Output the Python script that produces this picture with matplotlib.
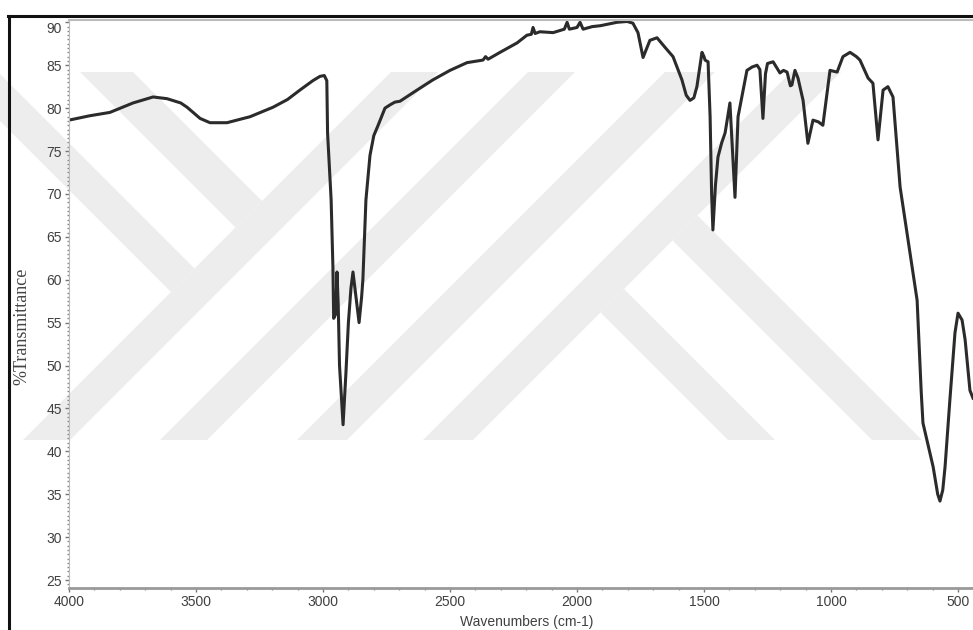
import matplotlib
matplotlib.use("Agg")
import matplotlib.pyplot as plt
from matplotlib.patches import Polygon
from matplotlib.lines import Line2D
from matplotlib.ticker import MultipleLocator

# spectrum (cm-1, %T)
wavenumber = [4000, 3920, 3839, 3748, 3669, 3614, 3560, 3535, 3484, 3445, 3378, 3287,
              3197, 3140, 3091, 3040, 3012, 2995, 2985, 2982, 2968, 2961, 2958, 2950,
              2945, 2940, 2935, 2921, 2910, 2900, 2890, 2882, 2870, 2858, 2848, 2843,
              2831, 2815, 2800, 2783, 2756, 2735, 2717, 2697, 2630, 2567, 2500, 2433,
              2370, 2360, 2350, 2303, 2236, 2197, 2180, 2173, 2165, 2146, 2094, 2050,
              2039, 2030, 2000, 1988, 1976, 1940, 1909, 1843, 1803, 1780, 1760, 1740,
              1713, 1685, 1654, 1622, 1587, 1570, 1555, 1540, 1528, 1508, 1500, 1496,
              1484, 1476, 1470, 1465, 1455, 1445, 1430, 1417, 1398, 1388, 1378, 1366,
              1331, 1310, 1291, 1280, 1268, 1258, 1250, 1228, 1201, 1187, 1173, 1160,
              1154, 1142, 1130, 1110, 1091, 1071, 1050, 1032, 1004, 976, 953, 925,
              900, 886, 854, 835, 815, 795, 776, 756, 728, 689, 661, 645,
              638, 620, 598, 580, 571, 560, 551, 532, 512, 500, 484, 472,
              453, 441]
transmittance = [78.6, 79.1, 79.5, 80.6, 81.3, 81.1, 80.6, 80.1, 78.8, 78.3, 78.3, 79.0,
                 80.1, 81.0, 82.1, 83.2, 83.7, 83.8, 83.2, 77.1, 69.3, 61.5, 55.5, 56.0,
                 60.9, 57.0, 50.0, 43.1, 49.0, 55.0, 59.0, 60.9, 58.0, 55.0, 58.0, 60.0,
                 69.3, 74.5, 76.8, 78.0, 80.0, 80.4, 80.7, 80.8, 82.1, 83.3, 84.4, 85.3,
                 85.6, 86.0, 85.7, 86.5, 87.6, 88.5, 88.6, 89.4, 88.7, 88.9, 88.8, 89.2,
                 90.0, 89.2, 89.4, 90.0, 89.2, 89.5, 89.6, 90.0, 90.1, 89.9, 88.8, 85.9,
                 87.9, 88.2, 87.1, 86.0, 83.3, 81.5, 80.9, 81.2, 82.5, 86.5, 86.0, 85.6,
                 85.4, 79.0, 70.0, 65.8, 71.0, 74.3, 76.0, 77.1, 80.6, 75.0, 69.6, 79.0,
                 84.4, 84.8, 85.0, 84.5, 78.8, 84.0, 85.2, 85.4, 84.1, 84.4, 84.2, 82.6,
                 82.7, 84.4, 83.5, 80.9, 75.9, 78.6, 78.4, 78.0, 84.4, 84.2, 86.0, 86.5,
                 86.0, 85.6, 83.5, 82.9, 76.3, 82.1, 82.5, 81.3, 70.8, 63.1, 57.6, 47.0,
                 43.3, 41.0, 38.2, 35.0, 34.2, 35.5, 38.2, 46.0, 53.8, 56.1, 55.3, 53.0,
                 47.1, 46.2]

y_ticks = list(range(25, 91, 5))
x_ticks = [4000, 3500, 3000, 2500, 2000, 1500, 1000, 500]

W, H = 973, 630
fig = plt.figure(figsize=(W / 100, H / 100), dpi=100)
fig.patch.set_facecolor("white")

def to_fig(pts):
    return [(x / W, 1 - y / H) for x, y in pts]

# light grey watermark stripes (pixel coords, y from top)
top, bot = 72, 440
stripes = []
for xb, w in [(23, 47), (160, 47), (297, 50), (423, 50)]:
    stripes.append([(xb, bot), (xb + w, bot), (xb + w + 368, top), (xb + 368, top)])
stripes.append([(80, 72), (133, 72), (262, 201), (235.5, 227.5)])
stripes.append([(-49, 72), (-2, 72), (194.5, 268.5), (171, 292)])
stripes.append([(728, 440), (775, 440), (624, 289), (600.5, 312.5)])
stripes.append([(872, 440), (922, 440), (697.5, 215.5), (672.5, 240.5)])
for s in stripes:
    fig.patches.append(Polygon(to_fig(s), closed=True, transform=fig.transFigure,
                               facecolor="#ededed", edgecolor="none", zorder=0))

# window border
fig.add_artist(Line2D([8 / W, 1], [1 - 16 / H, 1 - 16 / H], transform=fig.transFigure,
                      color="#111111", lw=2.2))
fig.add_artist(Line2D([9 / W, 9 / W], [0, 1 - 16 / H], transform=fig.transFigure,
                      color="#111111", lw=2.2))

ax = fig.add_axes([69 / W, 42 / H, (W - 69) / W, (588 - 20) / H])
ax.set_zorder(2)
ax.set_facecolor("none")
ax.plot(wavenumber, transmittance, color="#2b2b2b", lw=2.2, solid_joinstyle="round")

ax.set_xlim(4000, 441)
ax.set_ylim(24.07, 90.27)
ax.set_xticks(x_ticks)
ax.set_yticks(y_ticks)
ax.xaxis.set_minor_locator(MultipleLocator(100))
ax.yaxis.set_minor_locator(MultipleLocator(0.5))

for lab in ax.get_xticklabels() + ax.get_yticklabels():
    lab.set_family("Liberation Sans")
    lab.set_fontsize(10)
    lab.set_color("#404040")
ax.get_yticklabels()[-1].set_va("top")

ax.tick_params(axis="both", which="major", direction="out", length=3, width=1,
               color="#777777", pad=2)
ax.tick_params(axis="both", which="minor", direction="out", length=1.5, width=1,
               color="#888888")

ax.spines["right"].set_visible(False)
ax.spines["top"].set_color("#bbbbbb")
ax.spines["top"].set_linewidth(1.5)
ax.spines["left"].set_color("#bbbbbb")
ax.spines["left"].set_linewidth(0.8)
ax.spines["bottom"].set_color("#999999")
ax.spines["bottom"].set_linewidth(2)

fig.text(22 / W, 1 - 326 / H, "%Transmittance", rotation=90, family="Liberation Serif",
         fontsize=13, ha="center", va="center", color="#444444")
fig.text(527 / W, 1 - 622 / H, "Wavenumbers (cm-1)", family="Liberation Sans",
         fontsize=10, ha="center", va="center", color="#404040")

fig.savefig("out.png", dpi=100)
